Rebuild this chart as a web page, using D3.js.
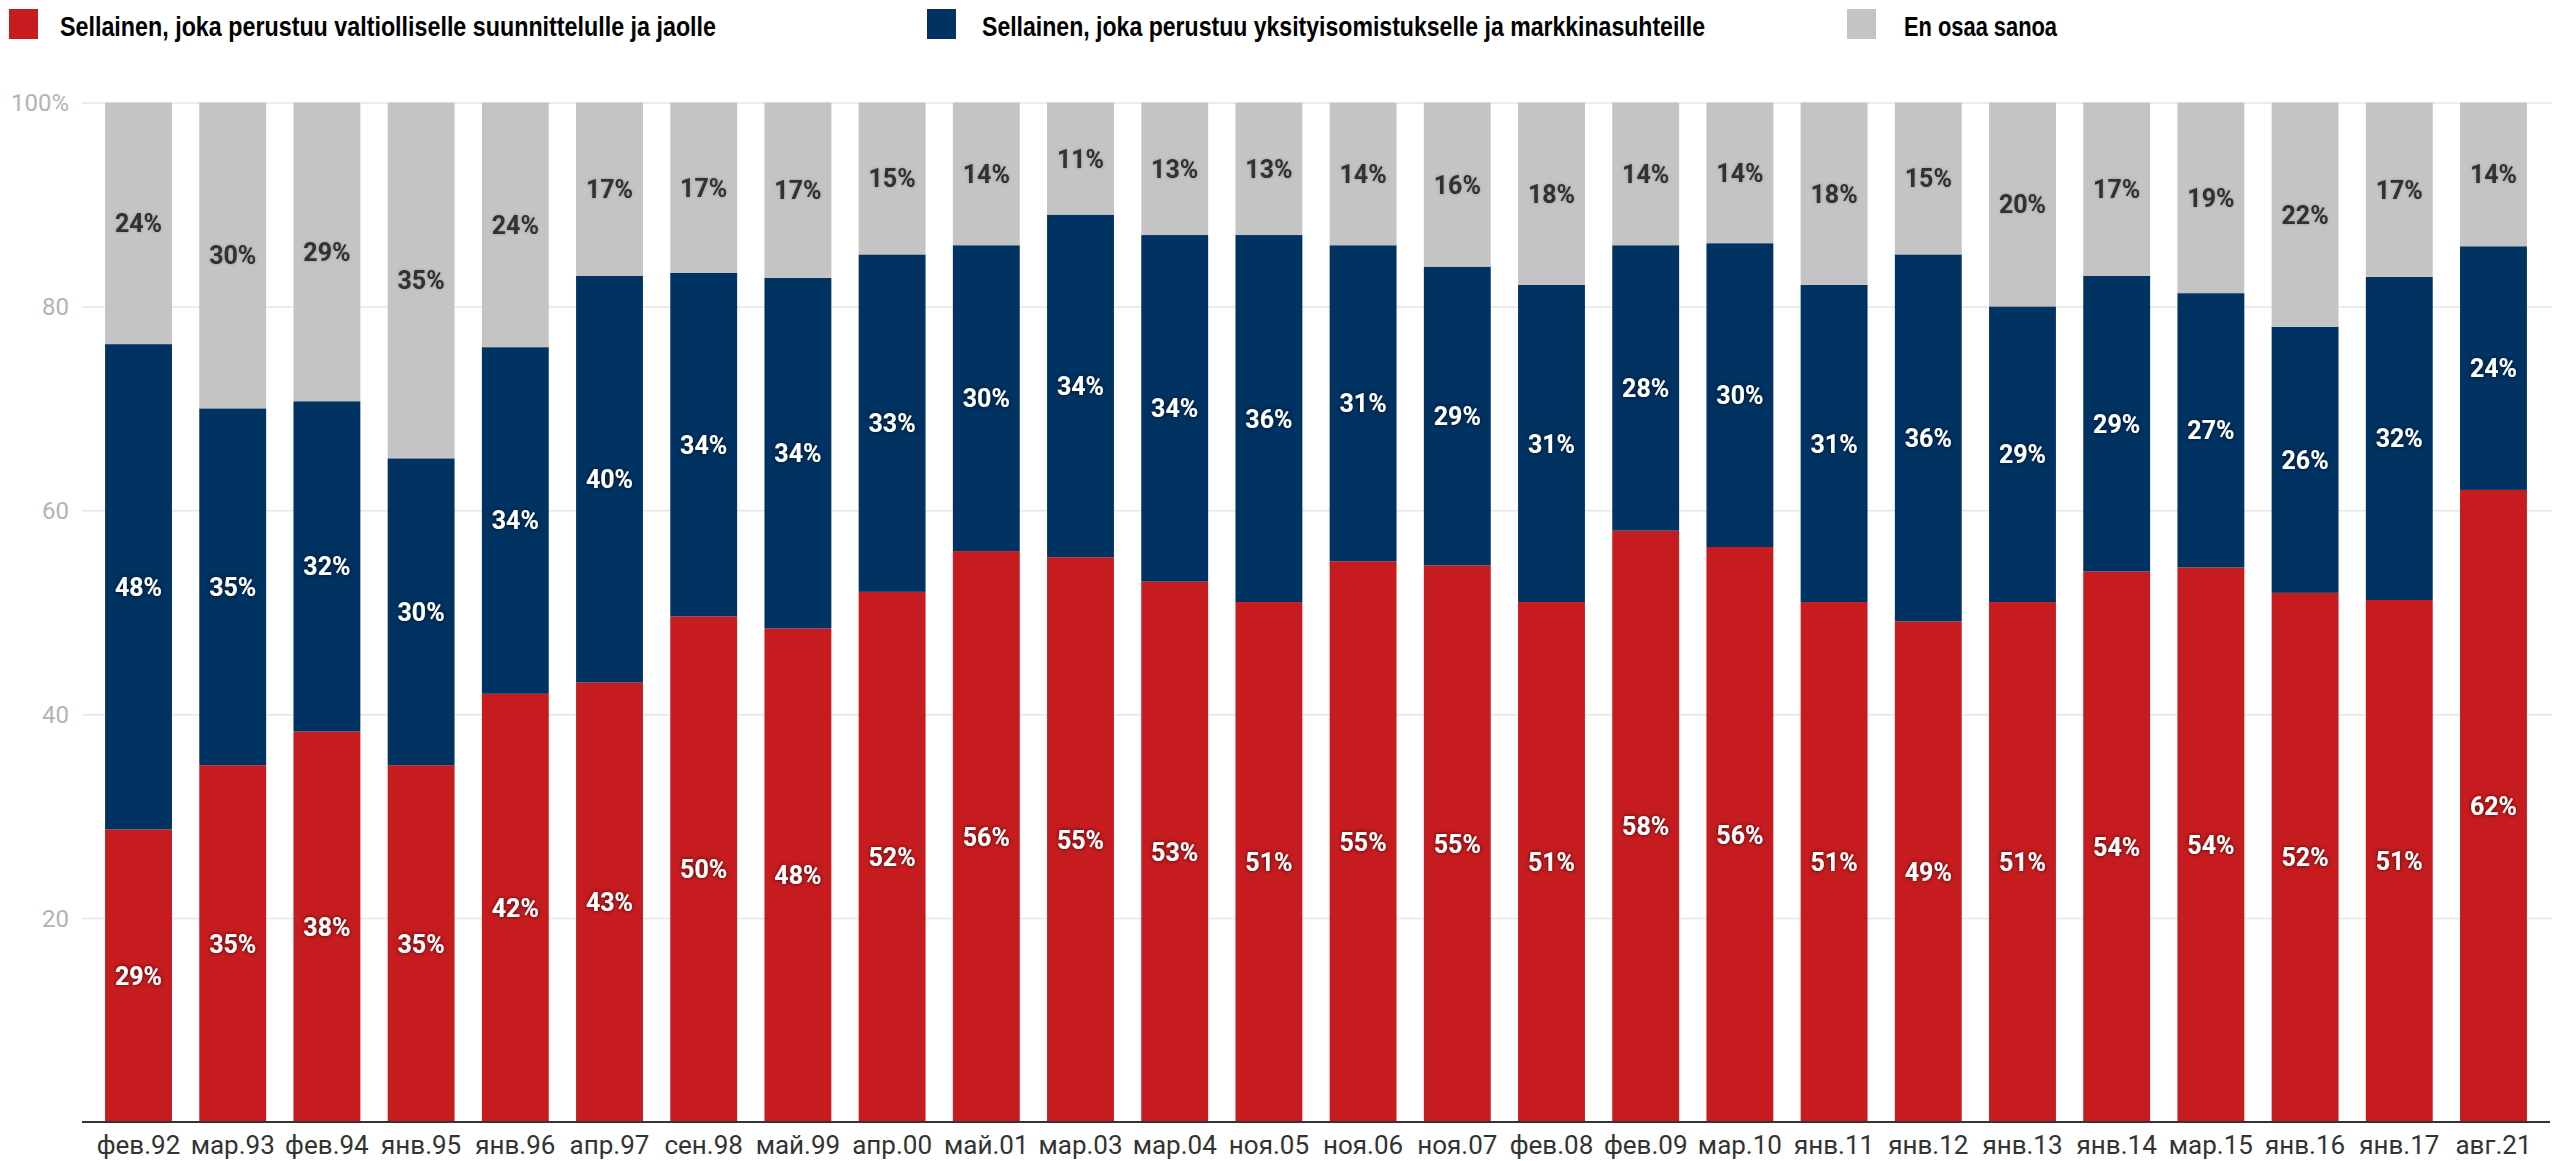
<!DOCTYPE html>
<html>
<head>
<meta charset="utf-8">
<script src="https://cdn.jsdelivr.net/npm/d3@7"></script>
<style>
  html, body { margin: 0; padding: 0; background: #fff; }
  svg { display: block; }
</style>
</head>
<body>
<svg id="chart" width="2552" height="1161"></svg>
<script>
// ---- data ----
const categories = ["фев.92","мар.93","фев.94","янв.95","янв.96","апр.97","сен.98","май.99","апр.00","май.01","мар.03","мар.04","ноя.05","ноя.06","ноя.07","фев.08","фев.09","мар.10","янв.11","янв.12","янв.13","янв.14","мар.15","янв.16","янв.17","авг.21"];
const stateValues   = [28.7,35.0,38.3,35.0,42.0,43.1,49.6,48.4,52.0,56.0,55.4,53.0,51.0,55.0,54.6,51.0,58.0,56.4,51.0,49.1,51.0,54.0,54.4,51.9,51.2,62.0];
const privateValues = [47.6,35.0,32.4,30.1,34.0,39.9,33.7,34.4,33.1,30.0,33.6,34.0,36.0,31.0,29.3,31.1,28.0,29.8,31.1,36.0,29.0,29.0,26.9,26.1,31.7,23.9];
const unsureValues  = [23.7,30.0,29.3,34.9,24.0,17.0,16.7,17.2,14.9,14.0,11.0,13.0,13.0,14.0,16.1,17.9,14.0,13.8,17.9,14.9,20.0,17.0,18.7,22.0,17.1,14.1];
const seriesNames = ["Sellainen, joka perustuu valtiolliselle suunnittelulle ja jaolle",
                     "Sellainen, joka perustuu yksityisomistukselle ja markkinasuhteille",
                     "En osaa sanoa"];
const yTickValues = [20, 40, 60, 80, 100];
const yTickLabels = ["20", "40", "60", "80", "100%"];

// ---- styles ----
const colors = ["#c71c1f", "#003262", "#c4c4c4"];
const labelColors = ["#ffffff", "#ffffff", "#303030"];
const keys = ["state", "private", "unsure"];

const table = categories.map((c, i) => ({
  cat: c, state: stateValues[i], private: privateValues[i], unsure: unsureValues[i]
}));

const svg = d3.select("#chart");
const plotLeft = 82, plotRight = 2550, plotTop = 102.5, plotBottom = 1122;

const x = d3.scaleBand().domain(categories).range([plotLeft, plotRight])
  .paddingInner(0.29).paddingOuter(0.245);
const y = d3.scaleLinear().domain([0, 100]).range([plotBottom, plotTop]);

// shadow filters
const defs = svg.append("defs");
const f1 = defs.append("filter").attr("id", "shadowDark").attr("x", "-20%").attr("y", "-40%").attr("width", "140%").attr("height", "180%");
f1.append("feDropShadow").attr("dx", 0).attr("dy", 0).attr("stdDeviation", 2).attr("flood-color", "#000").attr("flood-opacity", 0.7);
const f2 = defs.append("filter").attr("id", "shadowLight").attr("x", "-20%").attr("y", "-40%").attr("width", "140%").attr("height", "180%");
f2.append("feDropShadow").attr("dx", 0).attr("dy", 0).attr("stdDeviation", 1.5).attr("flood-color", "#000").attr("flood-opacity", 0.25);

// gridlines
const grid = svg.append("g").attr("transform", `translate(${plotLeft},0)`)
  .call(d3.axisLeft(y).tickValues(yTickValues).tickSize(-(2552 - plotLeft)).tickFormat(""));
grid.select(".domain").remove();
grid.selectAll("line").attr("stroke", "#e6e6e6").attr("stroke-width", 1.5);

// y axis labels
const yAxis = svg.append("g").attr("transform", `translate(69,0)`)
  .call(d3.axisLeft(y).tickValues(yTickValues).tickSize(0).tickPadding(0)
    .tickFormat((d, i) => yTickLabels[i]));
yAxis.select(".domain").remove();
yAxis.selectAll("text").attr("fill", "#b3b3b3").style("font-family", "Roboto, sans-serif")
  .style("font-size", "24px").attr("dy", "0.35em");

// stacked bars
const stack = d3.stack().keys(keys);
const stacked = stack(table);

const layers = svg.append("g").selectAll("g").data(stacked).join("g")
  .attr("fill", (d, i) => colors[i]);
layers.selectAll("rect").data(d => d).join("rect")
  .attr("x", d => x(d.data.cat))
  .attr("width", x.bandwidth())
  .attr("y", d => y(d[1]))
  .attr("height", d => y(d[0]) - y(d[1]));

// value labels
const labelG = svg.append("g");
stacked.forEach((layer, li) => {
  labelG.append("g").selectAll("text").data(layer).join("text")
    .attr("x", d => x(d.data.cat) + x.bandwidth() / 2)
    .attr("y", d => (y(d[0]) + y(d[1])) / 2)
    .attr("dy", "0.36em")
    .attr("text-anchor", "middle")
    .attr("fill", labelColors[li])
    .attr("filter", li < 2 ? "url(#shadowDark)" : "url(#shadowLight)")
    .style("font-family", "Roboto, sans-serif")
    .style("font-weight", "700")
    .style("font-size", "25px")
    .text(d => Math.round(d[1] - d[0]) + "%");
});

// x axis
const xAxis = svg.append("g").attr("transform", `translate(0,${plotBottom})`)
  .call(d3.axisBottom(x).tickSize(0).tickPadding(14));
xAxis.select(".domain").attr("stroke", "#333").attr("stroke-width", 2)
  .attr("d", `M${plotLeft},0H${plotRight}`);
xAxis.selectAll("text").attr("fill", "#333").style("font-family", "Roboto, sans-serif")
  .style("font-size", "26px").attr("dy", "0.71em");

// legend
const legendItems = [
  { sx: 9, tx: 60, tw: 656 },
  { sx: 927, tx: 982, tw: 723 },
  { sx: 1847, tx: 1904, tw: 153 }
];
const legend = svg.append("g");
legendItems.forEach((it, i) => {
  legend.append("rect").attr("x", it.sx).attr("y", 9).attr("width", 29).attr("height", 30)
    .attr("fill", colors[i]);
  legend.append("text").attr("x", it.tx).attr("y", 36)
    .attr("fill", "#000")
    .attr("textLength", it.tw).attr("lengthAdjust", "spacingAndGlyphs")
    .style("font-family", "'Liberation Sans Narrow', 'Liberation Sans', sans-serif")
    .style("font-weight", "700").style("font-size", "27px")
    .text(seriesNames[i]);
});
</script>
</body>
</html>
